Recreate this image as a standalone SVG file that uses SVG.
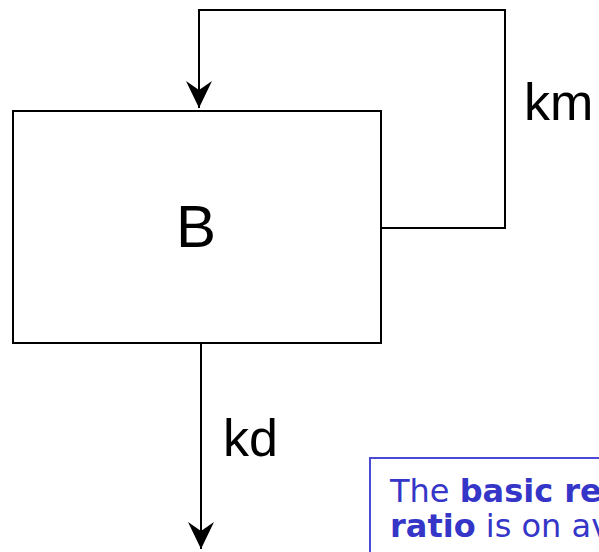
<svg xmlns="http://www.w3.org/2000/svg" width="599" height="552" viewBox="0 0 599 552">
  <style>
    .node { fill: #ffffff; stroke: #000000; stroke-width: 2; }
    .edge { fill: none; stroke: #000000; stroke-width: 2; }
    .lbl { font-family: "Liberation Sans", Arial, sans-serif; fill: #000000; }
    .note-box { fill: #ffffff; stroke: #4a4ad6; stroke-width: 2; }
    .note { font-family: "DejaVu Sans", Verdana, sans-serif; font-size: 32px; fill: #3535c8; }
  </style>
  <defs>
    <marker id="arrow" markerUnits="userSpaceOnUse" markerWidth="26" markerHeight="27" viewBox="0 0 26 27" refX="13" refY="27" orient="0">
      <path d="M0,0 L13,9 L26,0 L13,27 Z" fill="#000000"/>
    </marker>
  </defs>

  <g id="connectors">
    <!-- self loop km -->
    <polyline class="edge" points="381,228 505,228 505,10 199,10 199,108" marker-end="url(#arrow)"/>
    <text class="lbl" x="524" y="120" font-size="52">km</text>
    <!-- outflow kd -->
    <polyline class="edge" points="201,343 201,549" marker-end="url(#arrow)"/>
    <text class="lbl" x="223" y="456" font-size="52">kd</text>
  </g>

  <g id="node-B">
    <rect class="node" x="13" y="111" width="368" height="232"/>
    <text class="lbl" x="196" y="247" font-size="60" text-anchor="middle">B</text>
  </g>

  <g id="note">
    <rect class="note-box" x="370" y="458" width="260" height="120"/>
    <text class="note" x="390" y="502">The <tspan font-weight="bold">basic reproduction</tspan></text>
    <text class="note" x="390" y="537"><tspan font-weight="bold">ratio</tspan> is on average</text>
  </g>
</svg>
